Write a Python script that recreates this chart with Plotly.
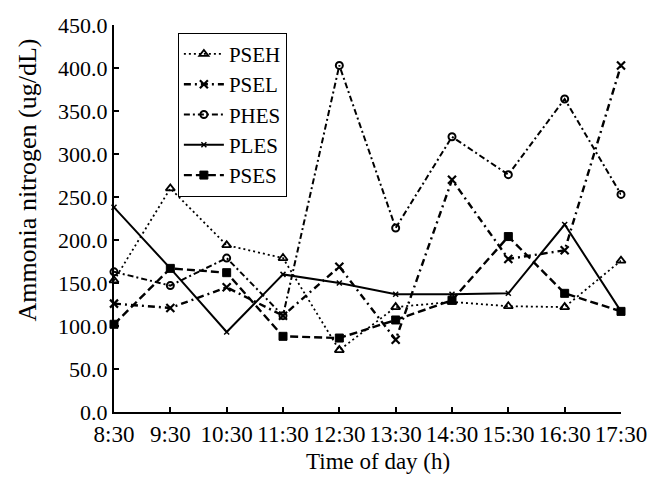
import plotly.graph_objects as go

times = ["8:30", "9:30", "10:30", "11:30", "12:30", "13:30", "14:30", "15:30", "16:30", "17:30"]
pseh = [153, 260, 194, 179, 72, 122, 128, 123, 122, 176]
psel = [126, 121, 145, 112, 169, 84, 270, 178, 188, 403]
phes = [163, 147, 179, 112, 403, 214, 320, 276, 364, 253]
ples = [238, 167, 93, 160, 150, 137, 137, 138, 218, 117]
pses = [102, 167, 162, 88, 86, 107, 130, 204, 138, 117]
ytick_vals = [0, 50, 100, 150, 200, 250, 300, 350, 400, 450]

series = [
    ("PSEH", pseh, "2px,3px", 1.8, "triangle-up-open", 8, 1.8),
    ("PSEL", psel, "7px,4px,2px,4px", 2.4, "x-thin", 8, 2.2),
    ("PHES", phes, "6px,3px,2px,3px", 2.0, "circle-open", 7, 2.0),
    ("PLES", ples, "solid", 2.0, "x-thin", 5, 1.5),
    ("PSES", pses, "8px,4px", 2.4, "square", 8, 1.0),
]

fig = go.Figure()
for name, vals, dash, lw, sym, ms, mlw in series:
    fig.add_trace(go.Scatter(
        x=times, y=vals, name=name, mode="lines+markers",
        line=dict(color="black", width=lw, dash=dash),
        marker=dict(symbol=sym, size=ms, color="black",
                    line=dict(color="black", width=mlw)),
        cliponaxis=False,
    ))

font_family = "Liberation Serif"
fig.update_layout(
    width=656, height=483,
    margin=dict(l=114, r=35, t=25, b=71, autoexpand=False),
    paper_bgcolor="white", plot_bgcolor="white",
    font=dict(family=font_family, color="black", size=22),
    showlegend=True,
    legend=dict(x=0.126, y=0.98, xanchor="left", yanchor="top",
                bordercolor="black", borderwidth=1, bgcolor="white",
                font=dict(size=21, family=font_family), tracegroupgap=0,
                itemwidth=40),
    xaxis=dict(type="category", range=[0, 9], showline=True, linecolor="black",
               linewidth=2, ticks="inside", ticklen=5, tickwidth=1.5,
               tickcolor="black", showgrid=False, zeroline=False,
               tickangle=0, automargin=False,
               tickfont=dict(size=23, family=font_family)),
    yaxis=dict(range=[0, 450], tickvals=ytick_vals, tickformat=".1f",
               showline=True, linecolor="black", linewidth=2,
               ticks="inside", ticklen=5, tickwidth=1.5, tickcolor="black",
               showgrid=False, zeroline=False, automargin=False,
               tickfont=dict(size=22, family=font_family)),
    annotations=[
        dict(text="Ammonia nitrogen (ug/dL)", textangle=-90, xref="paper",
             yref="paper", x=-0.17, y=0.6, xanchor="center", yanchor="middle",
             showarrow=False, font=dict(size=26, family=font_family)),
        dict(text="Time of day (h)", xref="paper", yref="paper",
             x=0.52, y=-0.129, xanchor="center", yanchor="middle",
             showarrow=False, font=dict(size=23, family=font_family)),
    ],
)
fig.write_html("out.html")
